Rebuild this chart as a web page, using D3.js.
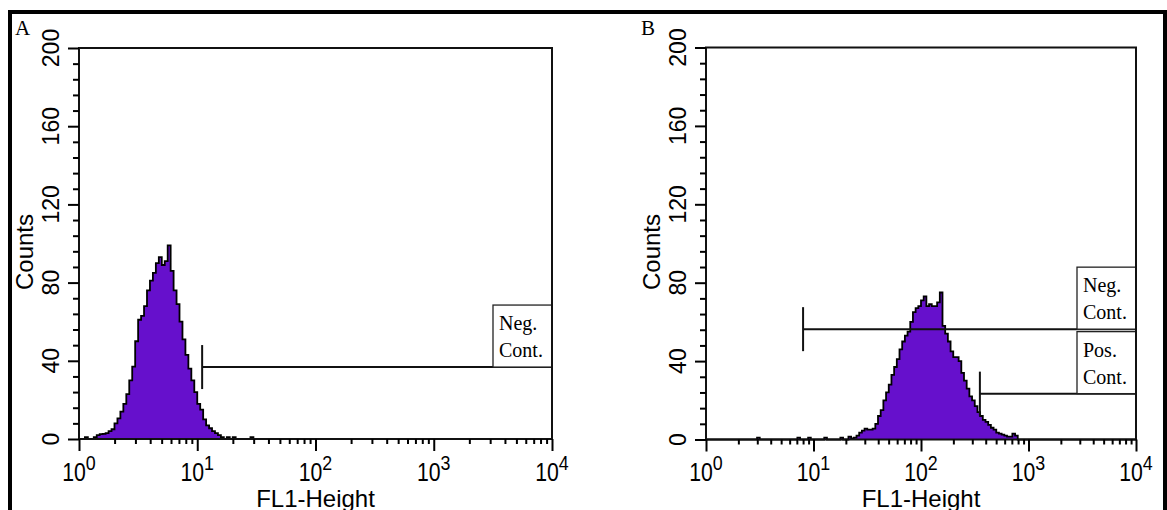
<!DOCTYPE html>
<html>
<head>
<meta charset="utf-8">
<script src="https://cdn.jsdelivr.net/npm/d3@7"></script>
<style>
body { margin: 0; background: #fff; }
svg { display: block; }
</style>
</head>
<body>
<svg id="svg" width="1167" height="510"></svg>
<script>
// histogram bins are 0.025 decade wide, first bin given as log10(FL1)
var binStep = 0.025;

var firstBinA = 0.05;
var countsA = [
    1, 0, 0, 1, 2, 2.5, 2.6, 3, 4, 5,
    8, 10.5, 14, 18, 23, 30, 37, 50, 61, 63,
    68, 76, 81, 85, 90, 93, 89, 91, 99, 86,
    76, 69, 60, 51, 43, 36, 30, 24, 18, 15,
    10, 7, 5.5, 4, 3, 2, 1, 0, 1, 0,
    1, 0, 0, 0, 0, 0, 1
];

var firstBinB = 0.45;
var countsB = [
    0, 1, 0, 0, 0, 0, 0, 0, 0, 0,
    0, 0, 0, 0, 0, 0, 1, 0, 0, 0,
    1, 0, 0, 0, 0, 0, 1, 0, 0, 0,
    0, 0, 1, 0, 0, 1.5, 0.5, 1, 2, 3.5,
    4.5, 5.5, 5, 5, 5.5, 8, 12, 15, 20, 24,
    28, 33, 37, 41, 46, 50, 53, 55, 60, 65,
    67, 68, 71, 73, 68, 69, 68, 68, 70, 75,
    58, 54, 50, 45, 42, 42, 40, 34, 30, 26,
    22, 20, 17, 14, 12, 10, 9, 7.5, 6, 5,
    3.5, 3, 2.5, 2, 1.5, 1.5, 3, 2
];

var xMajor = [1, 10, 100, 1000, 10000];
var xExp = ["0", "1", "2", "3", "4"];
var yMajor = [0, 40, 80, 120, 160, 200];
var yMinor = d3.range(0, 201, 8).filter(function(v) { return v % 40 != 0; });
var xMinor = [];
[1, 10, 100, 1000].forEach(function(p) {
    for (var m = 2; m <= 9; m++) xMinor.push(m * p);
});

var gatesA = [{label: ["Neg.", "Cont."], from: 11, level: 36.8}];
var gatesB = [
    {label: ["Neg.", "Cont."], from: 8, level: 56.3},
    {label: ["Pos.", "Cont."], from: 353, level: 23.4}
];

var sans = "'Liberation Sans', Arial, Helvetica, sans-serif";
var serif = "'Liberation Serif', 'Times New Roman', serif";

var svg = d3.select("#svg");

svg.append("rect")
    .attr("x", 10).attr("y", 12)
    .attr("width", 1155).attr("height", 530)
    .attr("fill", "none")
    .attr("stroke", "#000")
    .attr("stroke-width", 4);

function drawPanel(p) {
    var g = svg.append("g");
    var x = d3.scaleLog().domain([1, 10000]).range([p.left, p.right]);
    var y = d3.scaleLinear().domain([0, 200]).range([p.bottom, p.top]);

    var pts = [{v: 1, c: 0}];
    p.counts.forEach(function(c, i) {
        pts.push({v: Math.pow(10, p.first + i * binStep), c: c});
    });
    pts.push({v: Math.pow(10, p.first + p.counts.length * binStep), c: 0});
    pts.push({v: 10000, c: 0});

    g.append("path")
        .datum(pts)
        .attr("fill", "#6610cc")
        .attr("d", d3.area()
            .x(function(d) { return x(d.v); })
            .y0(y(0))
            .y1(function(d) { return y(d.c); })
            .curve(d3.curveStepAfter));

    g.append("path")
        .datum(pts)
        .attr("fill", "none")
        .attr("stroke", "#000")
        .attr("stroke-width", 1.8)
        .attr("d", d3.line()
            .x(function(d) { return x(d.v); })
            .y(function(d) { return y(d.c); })
            .curve(d3.curveStepAfter));

    // gates with their label boxes
    p.gates.forEach(function(gt) {
        var gy = y(gt.level), gx = x(gt.from);
        g.append("line")
            .attr("x1", gx).attr("x2", p.right)
            .attr("y1", gy).attr("y2", gy)
            .attr("stroke", "#111").attr("stroke-width", 2);
        g.append("line")
            .attr("x1", gx).attr("x2", gx)
            .attr("y1", gy - 22).attr("y2", gy + 22)
            .attr("stroke", "#111").attr("stroke-width", 2);
        var bx = p.right - 59, by = gy - 62;
        g.append("rect")
            .attr("x", bx).attr("y", by)
            .attr("width", 59).attr("height", 62)
            .attr("fill", "#fff")
            .attr("stroke", "#222").attr("stroke-width", 1.3);
        g.selectAll(null)
            .data(gt.label)
            .enter().append("text")
            .attr("x", bx + 6)
            .attr("y", function(d, i) { return by + 25 + i * 27; })
            .attr("font-family", serif)
            .attr("font-size", "20px")
            .attr("fill", "#000")
            .text(function(d) { return d; });
    });

    g.append("rect")
        .attr("x", p.left).attr("y", p.top)
        .attr("width", p.right - p.left).attr("height", p.bottom - p.top)
        .attr("fill", "none")
        .attr("stroke", "#111").attr("stroke-width", 2);

    function ticks(axis) {
        var a = g.append("g").call(axis);
        a.select(".domain").remove();
        a.selectAll("line").attr("stroke", "#000").attr("stroke-width", 2);
        return a;
    }
    ticks(d3.axisBottom(x).tickValues(xMinor).tickSize(5).tickFormat(""))
        .attr("transform", "translate(0," + p.bottom + ")");
    ticks(d3.axisBottom(x).tickValues(xMajor).tickSize(12).tickFormat(""))
        .attr("transform", "translate(0," + p.bottom + ")");
    ticks(d3.axisLeft(y).tickValues(yMinor).tickSize(6).tickFormat(""))
        .attr("transform", "translate(" + p.left + ",0)");
    ticks(d3.axisLeft(y).tickValues(yMajor).tickSize(11).tickFormat(""))
        .attr("transform", "translate(" + p.left + ",0)");

    // x tick labels 10^n
    var xl = g.selectAll(".xl")
        .data(xMajor)
        .enter().append("g")
        .attr("transform", function(d) { return "translate(" + x(d) + ",481) scale(0.85,1)"; })
        .append("text")
        .attr("text-anchor", "middle")
        .attr("font-family", sans)
        .attr("font-size", "25px")
        .attr("fill", "#000");
    xl.append("tspan").text("10");
    xl.append("tspan")
        .attr("dy", -11)
        .attr("font-size", "21px")
        .text(function(d, i) { return xExp[i]; });

    g.selectAll(".yl")
        .data(yMajor)
        .enter().append("text")
        .attr("transform", function(d) { return "translate(" + (p.left - 20) + "," + y(d) + ") rotate(-90)"; })
        .attr("text-anchor", "middle")
        .attr("font-family", sans)
        .attr("font-size", "23px")
        .attr("fill", "#000")
        .text(function(d) { return d; });

    g.append("text")
        .attr("transform", "translate(" + (p.left - 46) + ",252) rotate(-90)")
        .attr("text-anchor", "middle")
        .attr("font-family", sans)
        .attr("font-size", "24px")
        .attr("fill", "#000")
        .text("Counts");

    g.append("text")
        .attr("x", (p.left + p.right) / 2)
        .attr("y", 507)
        .attr("text-anchor", "middle")
        .attr("font-family", sans)
        .attr("font-size", "24px")
        .attr("fill", "#000")
        .text("FL1-Height");

    g.append("text")
        .attr("x", p.letterX).attr("y", 35)
        .attr("font-family", serif)
        .attr("font-size", "21px")
        .attr("fill", "#000")
        .text(p.letter);
}

drawPanel({letter: "A", letterX: 15, left: 79, right: 552, top: 48, bottom: 439,
    first: firstBinA, counts: countsA, gates: gatesA});
drawPanel({letter: "B", letterX: 641, left: 706, right: 1136, top: 47.5, bottom: 439.5,
    first: firstBinB, counts: countsB, gates: gatesB});
</script>
</body>
</html>
